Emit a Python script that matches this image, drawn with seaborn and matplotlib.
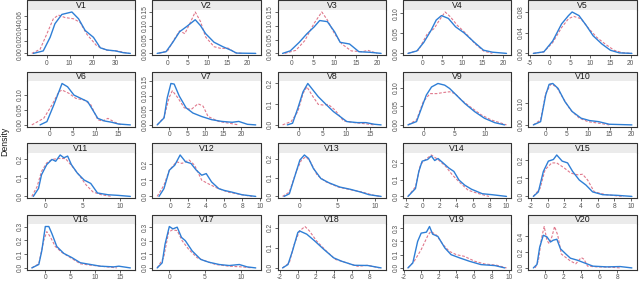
import numpy as np
import pandas as pd
import seaborn as sns
import matplotlib.pyplot as plt

panels = ["V%d" % i for i in range(1, 21)]

# density curves: (x, density)
v1_solid = [(-5.8, 0), (-1.5, 0.004), (1.5, 0.026), (3.6, 0.048), (6.6, 0.063), (11, 0.067), (13.9, 0.056), (16.8, 0.037), (20.4, 0.026), (23.4, 0.009), (26.3, 0.0055), (30, 0.004), (33.6, 0.001), (36.5, 0)]
v1_dash = [(-6.5, 0), (-2.9, 0.0066), (0, 0.031), (2.9, 0.056), (5.1, 0.062), (8, 0.058), (11.7, 0.056), (14.6, 0.05), (17.5, 0.031), (21.9, 0.012), (26.3, 0.005), (30.7, 0.004), (35.8, 0)]
v2_solid = [(-2.6, 0), (-0.4, 0.006), (1.3, 0.04), (3, 0.078), (4.7, 0.096), (6.9, 0.121), (8.2, 0.1), (9.5, 0.071), (11.6, 0.04), (13.8, 0.024), (15.9, 0.011), (17.2, 0.001), (22, 0)]
v2_dash = [(-2.2, 0), (0, 0.009), (1.7, 0.052), (3, 0.081), (4.3, 0.071), (5.6, 0.109), (6.9, 0.149), (8.2, 0.115), (9.5, 0.059), (11.6, 0.024), (13.4, 0.0175), (15.1, 0.019), (16.8, 0.0025), (18.5, 0)]
v3_solid = [(-2.2, 0), (-0.4, 0.009), (1.7, 0.04), (3.5, 0.071), (5.2, 0.096), (6.5, 0.119), (8.3, 0.115), (10, 0.078), (11.3, 0.04), (13.5, 0.034), (15.7, 0.006), (18.3, 0.004), (20.9, 0)]
v3_dash = [(-1.7, 0), (0.9, 0.011), (3, 0.046), (5.2, 0.109), (7, 0.15), (8.3, 0.121), (10, 0.071), (11.7, 0.034), (13.9, 0.009), (16.5, 0.006), (17.8, 0.011), (20, 0)]
v4_solid = [(-3.5, 0), (-1.3, 0.006), (0.4, 0.027), (2.2, 0.057), (3.5, 0.083), (4.8, 0.094), (6.5, 0.087), (8.3, 0.066), (10.4, 0.051), (13, 0.027), (15.2, 0.008), (17.4, 0.003), (20.9, 0)]
v4_dash = [(-3.5, 0), (-0.9, 0.008), (1.3, 0.049), (3, 0.062), (4.3, 0.083), (5.7, 0.103), (7, 0.091), (8.7, 0.07), (10.9, 0.049), (13, 0.025), (15.2, 0.006), (17.4, 0)]
v5_solid = [(-4.1, 0), (-1.5, 0.003), (0.7, 0.024), (2.9, 0.057), (4.6, 0.073), (5.5, 0.08), (7.2, 0.073), (9, 0.054), (10.7, 0.034), (12.9, 0.018), (15, 0.006), (17.2, 0.001), (20.3, 0)]
v5_dash = [(-4.1, 0), (-1.5, 0.003), (0.7, 0.021), (2.9, 0.05), (4.6, 0.067), (5.9, 0.0715), (7.7, 0.067), (9.4, 0.05), (11.6, 0.031), (13.7, 0.018), (15.9, 0.006), (18.1, 0.001), (20.3, 0)]
v6_solid = [(-2.1, 0), (-0.6, 0.011), (0.9, 0.067), (2, 0.111), (2.7, 0.139), (3.9, 0.128), (5.3, 0.1), (6.8, 0.089), (8.3, 0.078), (9.4, 0.05), (10.5, 0.022), (12, 0.013), (13.5, 0.009), (15, 0.003), (17.6, 0)]
v6_dash = [(-3.9, 0), (-1.3, 0.022), (0.5, 0.067), (2, 0.111), (2.7, 0.117), (4.2, 0.106), (5.7, 0.089), (7.6, 0.083), (9, 0.067), (10.5, 0.017), (11.6, 0.013), (12.7, 0.022), (14.2, 0.009), (15.7, 0)]
v7_solid = [(-3.3, 0), (-1.4, 0.024), (-0.5, 0.094), (0.5, 0.143), (1.4, 0.141), (2.8, 0.1), (4.7, 0.059), (6.6, 0.041), (9, 0.029), (11.8, 0.018), (14.6, 0.012), (17.5, 0.009), (19.3, 0.012), (21.7, 0.002), (24, 0)]
v7_dash = [(-3.3, 0), (-1.4, 0.026), (0, 0.094), (0.9, 0.118), (2.4, 0.094), (4.2, 0.059), (6.1, 0.053), (8, 0.073), (9.4, 0.065), (10.8, 0.029), (13.7, 0.012), (16.5, 0.006), (19.3, 0)]
v8_solid = [(-2.4, 0), (-1.3, 0.008), (-0.2, 0.08), (0.9, 0.16), (1.9, 0.2), (3, 0.168), (4.1, 0.136), (5.5, 0.104), (7.3, 0.064), (8.7, 0.04), (10.1, 0.016), (12.3, 0.011), (14.1, 0.011), (15.9, 0.003), (17.3, 0)]
v8_dash = [(-3.4, 0), (-1.6, 0.016), (-0.2, 0.064), (0.9, 0.152), (1.7, 0.184), (3, 0.136), (4.1, 0.099), (5.1, 0.096), (6.2, 0.099), (7.6, 0.072), (9.4, 0.019), (11.6, 0.011), (13.7, 0.006), (15.9, 0)]
v9_solid = [(-2.6, 0), (-1.2, 0.009), (-0.4, 0.045), (0.4, 0.081), (1.25, 0.103), (2.3, 0.1125), (3.4, 0.108), (4.2, 0.099), (5.3, 0.081), (6.7, 0.058), (8.3, 0.036), (9.9, 0.018), (11.6, 0.006), (13.2, 0)]
v9_dash = [(-2.6, 0), (-1.2, 0.0135), (-0.1, 0.063), (1, 0.085), (2.1, 0.085), (3.2, 0.088), (4.2, 0.09), (5.1, 0.085), (6.1, 0.068), (7.5, 0.05), (9.4, 0.027), (11, 0.0135), (12.7, 0.0045), (13.5, 0)]
v10_solid = [(-2.9, 0), (-1.2, 0.015), (0, 0.139), (0.8, 0.188), (1.65, 0.192), (2.9, 0.169), (4.5, 0.108), (6.2, 0.062), (8.3, 0.031), (10.3, 0.02), (12.4, 0.015), (14.9, 0.003), (20.2, 0)]
v10_dash = [(-2.9, 0), (-1.2, 0.023), (0, 0.146), (1.2, 0.189), (2.5, 0.177), (4.1, 0.123), (5.8, 0.069), (7.9, 0.031), (9.9, 0.015), (12.4, 0.008), (14.9, 0)]
v11_solid = [(-1.6, 0), (-0.9, 0.043), (-0.5, 0.117), (0.2, 0.172), (0.9, 0.2), (1.4, 0.19), (2, 0.224), (2.5, 0.209), (3, 0.218), (3.5, 0.172), (4.3, 0.126), (5.2, 0.089), (6.1, 0.07), (7, 0.0185), (8.4, 0.009), (9.8, 0.0055), (11.4, 0)]
v11_dash = [(-1.8, 0), (-1.1, 0.052), (-0.5, 0.135), (0.2, 0.181), (0.9, 0.2), (1.8, 0.205), (2.7, 0.205), (3.6, 0.163), (4.5, 0.117), (5.5, 0.061), (6.4, 0.024), (7.5, 0.009), (8.9, 0)]
v12_solid = [(-1.25, 0), (-0.7, 0.048), (-0.1, 0.162), (0.5, 0.193), (1.1, 0.256), (1.7, 0.214), (2.3, 0.204), (2.9, 0.162), (3.5, 0.131), (4, 0.141), (4.6, 0.089), (5.4, 0.048), (6, 0.037), (6.8, 0.027), (8, 0.01), (9.5, 0)]
v12_dash = [(-1.45, 0), (-0.7, 0.069), (-0.1, 0.162), (0.7, 0.214), (1.3, 0.204), (2.1, 0.225), (2.7, 0.193), (3.5, 0.1), (4.2, 0.079), (5.2, 0.052), (6.4, 0.027), (8, 0.01), (9.1, 0)]
v13_solid = [(-2.1, 0), (-1.4, 0.014), (-0.7, 0.104), (0, 0.194), (0.6, 0.221), (1.15, 0.203), (1.8, 0.149), (2.8, 0.095), (3.9, 0.072), (5.3, 0.05), (6.7, 0.038), (8.1, 0.023), (9.2, 0.009), (10.8, 0)]
v13_dash = [(-2.3, 0), (-1.4, 0.023), (-0.5, 0.131), (0.2, 0.194), (0.8, 0.212), (1.4, 0.185), (2.3, 0.113), (3.5, 0.077), (5.1, 0.05), (6.7, 0.036), (8.3, 0.023), (9.9, 0.005), (10.6, 0)]
v14_solid = [(-1.8, 0), (-0.9, 0.047), (-0.5, 0.149), (-0.1, 0.21), (0.55, 0.22), (1, 0.241), (1.4, 0.214), (1.8, 0.226), (2.4, 0.2), (3.1, 0.169), (3.7, 0.149), (4.3, 0.098), (5, 0.067), (5.8, 0.043), (7.1, 0.016), (8.3, 0.01), (10, 0)]
v14_dash = [(-1.8, 0), (-0.9, 0.057), (-0.3, 0.19), (0.3, 0.22), (1, 0.247), (1.8, 0.22), (2.7, 0.18), (3.5, 0.129), (4.3, 0.088), (5.4, 0.037), (6.7, 0.016), (7.9, 0)]
v15_solid = [(-1.7, 0), (-1.1, 0.025), (-0.5, 0.139), (0.1, 0.196), (0.7, 0.205), (1.1, 0.23), (1.75, 0.196), (2.4, 0.186), (3, 0.139), (3.8, 0.091), (4.6, 0.063), (5.4, 0.025), (6.6, 0.0095), (8.3, 0.006), (10.1, 0)]
v15_dash = [(-1.7, 0), (-0.9, 0.044), (-0.3, 0.148), (0.5, 0.186), (1.1, 0.186), (2, 0.158), (2.8, 0.129), (3.6, 0.12), (4.2, 0.123), (4.8, 0.091), (5.6, 0.025), (7, 0.0095), (8.5, 0.002), (9.1, 0)]
v16_solid = [(-2.7, 0), (-1.3, 0.025), (-0.7, 0.125), (0, 0.3), (0.7, 0.3), (1.3, 0.25), (2.3, 0.155), (3.7, 0.105), (5.3, 0.075), (7, 0.0375), (9, 0.025), (11, 0.0125), (13.7, 0.0075), (14.7, 0.0125), (17, 0)]
v16_dash = [(-2.7, 0), (-1.3, 0.03), (-0.3, 0.2), (0.3, 0.263), (1, 0.225), (2, 0.155), (3.3, 0.1125), (5, 0.075), (7, 0.03), (9, 0.02), (11.7, 0.01), (14.3, 0)]
v17_solid = [(-1.7, 0), (-1, 0.0375), (-0.6, 0.175), (0, 0.305), (0.5, 0.2875), (1.1, 0.3), (1.7, 0.225), (2.25, 0.2), (3.2, 0.125), (4.4, 0.0625), (5.5, 0.0425), (7, 0.025), (8.4, 0.0175), (9.8, 0.025), (10.9, 0.0075), (12.1, 0)]
v17_dash = [(-1.7, 0), (-0.8, 0.075), (-0.1, 0.2625), (0.4, 0.28), (1.1, 0.275), (1.8, 0.2), (2.7, 0.1375), (3.9, 0.075), (5.1, 0.05), (6.5, 0.025), (8.4, 0.0125), (10.2, 0.0075), (11.6, 0)]
v18_solid = [(-1.7, 0), (-1.1, 0.0167), (-0.6, 0.083), (0, 0.175), (0.2, 0.183), (1, 0.167), (1.9, 0.133), (2.9, 0.092), (4, 0.05), (4.9, 0.033), (6.3, 0.013), (7.8, 0.012), (9.3, 0)]
v18_dash = [(-1.7, 0), (-0.95, 0.025), (-0.4, 0.117), (0.2, 0.183), (0.8, 0.205), (1.3, 0.183), (2.1, 0.133), (3.2, 0.083), (4.2, 0.042), (5.1, 0.03), (6.7, 0.008), (7.8, 0.013), (9.1, 0)]
v19_solid = [(-1.5, 0), (-0.95, 0.0375), (-0.4, 0.2), (0, 0.2625), (0.6, 0.27), (0.95, 0.3125), (1.3, 0.255), (1.9, 0.2375), (2.7, 0.15), (3.4, 0.1), (4.4, 0.075), (5.5, 0.05), (6.8, 0.025), (8.4, 0.0175), (9.5, 0)]
v19_dash = [(-1.5, 0), (-0.8, 0.05), (0, 0.1375), (0.8, 0.25), (1.1, 0.275), (1.7, 0.25), (2.5, 0.175), (3.2, 0.125), (4, 0.1), (4.9, 0.0875), (6.1, 0.05), (7.2, 0.03), (8.6, 0.02), (9.7, 0)]
v20_solid = [(-1.3, 0), (-0.9, 0.043), (-0.6, 0.26), (-0.2, 0.41), (0.2, 0.39), (0.6, 0.326), (0.9, 0.348), (1.3, 0.36), (1.7, 0.24), (2.3, 0.174), (2.8, 0.122), (3.6, 0.096), (4.3, 0.065), (5.3, 0.022), (6.8, 0.013), (8.3, 0.017), (9.6, 0)]
v20_dash = [(-1.1, 0), (-0.75, 0.087), (-0.4, 0.37), (-0.1, 0.52), (0.2, 0.348), (0.45, 0.304), (0.75, 0.39), (1.05, 0.52), (1.4, 0.41), (1.8, 0.174), (2.3, 0.13), (2.8, 0.087), (3.4, 0.052), (4, 0.13), (4.3, 0.109), (4.7, 0.022), (5.7, 0.013), (7.2, 0.009), (8.3, 0)]

solid_curves = [v1_solid, v2_solid, v3_solid, v4_solid, v5_solid, v6_solid, v7_solid, v8_solid, v9_solid, v10_solid,
                v11_solid, v12_solid, v13_solid, v14_solid, v15_solid, v16_solid, v17_solid, v18_solid, v19_solid, v20_solid]
dash_curves = [v1_dash, v2_dash, v3_dash, v4_dash, v5_dash, v6_dash, v7_dash, v8_dash, v9_dash, v10_dash,
               v11_dash, v12_dash, v13_dash, v14_dash, v15_dash, v16_dash, v17_dash, v18_dash, v19_dash, v20_dash]

x_ticks = [[0, 10, 20, 30], [0, 5, 10, 15, 20], [0, 5, 10, 15, 20], [0, 5, 10, 15, 20], [-5, 0, 5, 10, 15, 20],
           [0, 5, 10, 15], [-5, 0, 5, 10, 15, 20], [0, 5, 10, 15], [0, 5, 10], [0, 5, 10, 15, 20],
           [0, 5, 10], [-2, 0, 2, 4, 6, 8, 10], [0, 5, 10], [-2, 0, 2, 4, 6, 8, 10], [-2, 0, 2, 4, 6, 8, 10],
           [0, 5, 10, 15], [0, 5, 10], [-2, 0, 2, 4, 6, 8], [-2, 0, 2, 4, 6, 8, 10], [0, 2, 4, 6, 8]]
y_ticks = [[0, 0.02, 0.04, 0.06], [0, 0.05, 0.10, 0.15], [0, 0.05, 0.10, 0.15], [0, 0.05, 0.10], [0, 0.04, 0.08],
           [0, 0.05, 0.10], [0, 0.05, 0.10, 0.15], [0, 0.1, 0.2], [0, 0.05, 0.10], [0, 0.10],
           [0, 0.1, 0.2], [0, 0.1, 0.2], [0, 0.1, 0.2], [0, 0.1, 0.2], [0, 0.1, 0.2],
           [0, 0.1, 0.2, 0.3], [0, 0.1, 0.2, 0.3], [0, 0.1, 0.2], [0, 0.1, 0.2, 0.3], [0, 0.2, 0.4]]
y_decimals = [2, 2, 2, 2, 2, 2, 2, 1, 2, 2, 1, 1, 1, 1, 1, 1, 1, 1, 1, 1]

rows = []
for name, sc, dc in zip(panels, solid_curves, dash_curves):
    for x, y in sc:
        rows.append((name, "solid", x, y))
    for x, y in dc:
        rows.append((name, "dash", x, y))
df = pd.DataFrame(rows, columns=["panel", "series", "x", "y"])

sns.set_style("white")
plt.rcParams['font.family'] = ['Liberation Sans', 'DejaVu Sans']

fig, axes = plt.subplots(4, 5, figsize=(6.4, 2.83), dpi=100)
fig.subplots_adjust(left=0.042, right=0.995, top=0.965, bottom=0.046, wspace=0.157, hspace=0.57)

strip_h = 0.21
edge = '#333333'
for i, ax in enumerate(axes.flat):
    sub = df[df.panel == panels[i]]
    sns.lineplot(data=sub[sub.series == "dash"], x="x", y="y", ax=ax, color="#e0788c",
                 linewidth=0.8, linestyle=(0, (2.5, 1.5)), estimator=None, sort=False)
    sns.lineplot(data=sub[sub.series == "solid"], x="x", y="y", ax=ax, color="#2f7fd6",
                 linewidth=1.0, estimator=None, sort=False)
    ax.set_xlabel("")
    ax.set_ylabel("")
    ax.set_xticks(x_ticks[i])
    ax.set_xticklabels([str(t) for t in x_ticks[i]])
    ax.set_yticks(y_ticks[i])
    ax.set_yticklabels([f"{t:.{y_decimals[i]}f}" for t in y_ticks[i]], rotation=90, va="center")
    ax.tick_params(labelsize=4.8, length=2, width=0.6, colors='#4d4d4d', pad=1, labelcolor='#555555')
    ax.tick_params(axis='y', pad=0.5)
    ax.tick_params(left=True, bottom=True)
    for s in ['left', 'right', 'bottom']:
        ax.spines[s].set_color(edge)
        ax.spines[s].set_linewidth(0.8)
    ax.spines['top'].set_visible(False)
    ax.add_patch(plt.Rectangle((0, 1), 1, strip_h, transform=ax.transAxes, facecolor='#ebebeb',
                               edgecolor='none', clip_on=False, zorder=3))
    ax.plot([0, 0, 1, 1], [1, 1 + strip_h, 1 + strip_h, 1], transform=ax.transAxes, color=edge,
            linewidth=0.8, clip_on=False, zorder=4)
    ax.text(0.5, 1 + strip_h / 2, panels[i], transform=ax.transAxes, ha='center', va='center',
            fontsize=6.3, color='#1a1a1a', zorder=5)

fig.text(0.008, 0.5, "Density", rotation=90, ha='center', va='center', fontsize=6.3, color='#1a1a1a')

plt.savefig("out.png", dpi=100)
